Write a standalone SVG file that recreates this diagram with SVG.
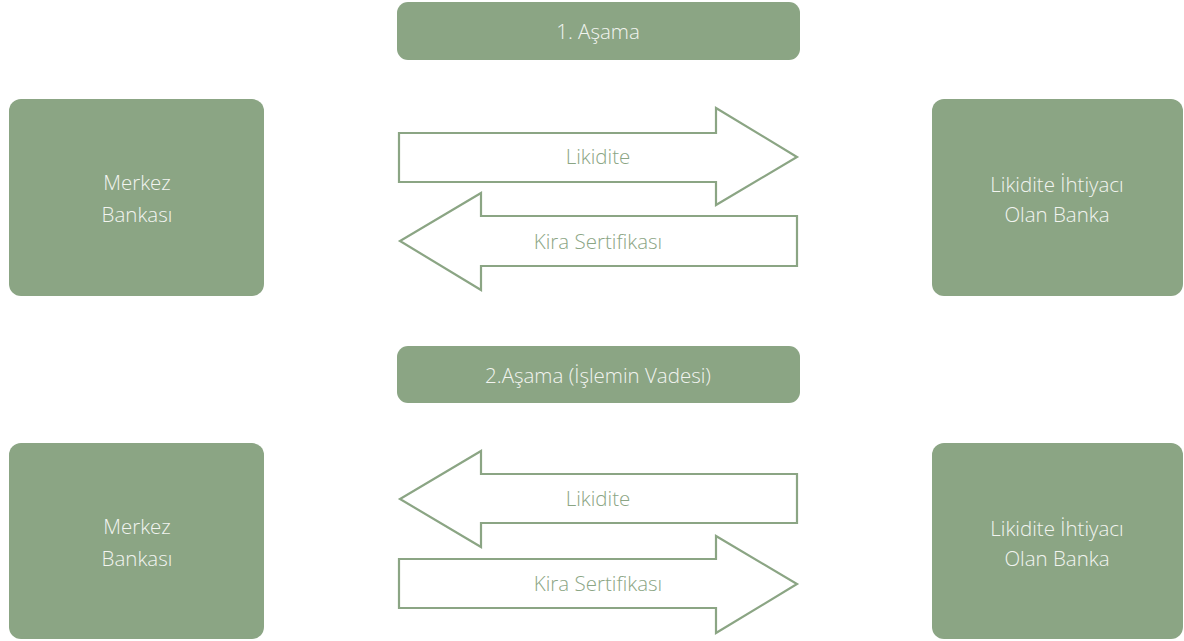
<svg xmlns="http://www.w3.org/2000/svg" width="1184" height="641" viewBox="0 0 1184 641">
<style>
.box{fill:#8ba584;}
.arrow{fill:#ffffff;stroke:#8ba584;stroke-width:2.2;stroke-linejoin:miter;}
.wt{font-family:"Open Sans","Liberation Sans",sans-serif;font-size:20.5px;font-weight:300;fill:#f2f4f0;text-anchor:middle;}
.gt{font-family:"Open Sans","Liberation Sans",sans-serif;font-size:20.5px;font-weight:300;fill:#8ba584;text-anchor:middle;}
</style>
<rect width="1184" height="641" fill="#ffffff"/>
<g id="stage1">
<rect class="box" x="397" y="2" width="403" height="58" rx="11"/>
<text class="wt" x="598" y="39">1. Aşama</text>
</g>
<g id="stage2">
<rect class="box" x="397" y="346" width="403" height="57" rx="11"/>
<text class="wt" x="598" y="383">2.Aşama (İşlemin Vadesi)</text>
</g>
<g id="mb1">
<rect class="box" x="9" y="99" width="255" height="197" rx="12"/>
<text class="wt" x="137" y="190">Merkez</text>
<text class="wt" x="137" y="222">Bankası</text>
</g>
<g id="lb1">
<rect class="box" x="932" y="99" width="251" height="197" rx="12"/>
<text class="wt" x="1057" y="192">Likidite İhtiyacı</text>
<text class="wt" x="1057" y="222">Olan Banka</text>
</g>
<g id="mb2">
<rect class="box" x="9" y="443" width="255" height="196" rx="12"/>
<text class="wt" x="137" y="534">Merkez</text>
<text class="wt" x="137" y="566">Bankası</text>
</g>
<g id="lb2">
<rect class="box" x="932" y="443" width="251" height="196" rx="12"/>
<text class="wt" x="1057" y="536">Likidite İhtiyacı</text>
<text class="wt" x="1057" y="566">Olan Banka</text>
</g>
<g id="connectors">
<polygon class="arrow" points="399,133 716,133 716,108 797,157 716,205 716,182 399,182"/>
<text class="gt" x="598" y="164">Likidite</text>
<polygon class="arrow" points="797,216 481,216 481,193 400,241 481,290 481,266 797,266"/>
<text class="gt" x="598" y="249">Kira Sertifikası</text>
<polygon class="arrow" points="797,474 481,474 481,451 400,499 481,547 481,523 797,523"/>
<text class="gt" x="598" y="506">Likidite</text>
<polygon class="arrow" points="399,559 716,559 716,536 797,584 716,633 716,608 399,608"/>
<text class="gt" x="598" y="591">Kira Sertifikası</text>
</g>
</svg>
